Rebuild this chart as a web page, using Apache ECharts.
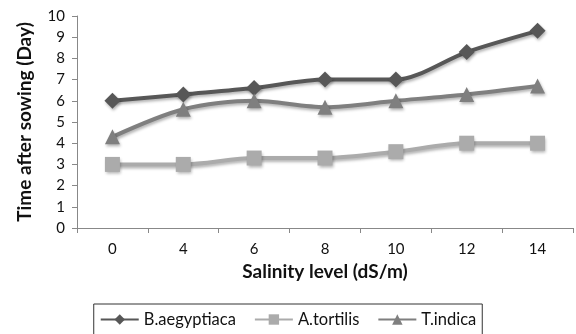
<!DOCTYPE html>
<html><head><meta charset="utf-8">
<script src="https://cdn.jsdelivr.net/npm/echarts@6/dist/echarts.min.js"></script>
<style>html,body{margin:0;padding:0;background:#fff}#c{width:576px;height:334px}</style>
</head><body><div id="c"></div>
<script>
const categories = ['0','4','6','8','10','12','14'];
const bAegyptiaca = [6.0, 6.3, 6.6, 7.0, 7.0, 8.3, 9.3];
const aTortilis = [3.0, 3.0, 3.3, 3.3, 3.6, 4.0, 4.0];
const tIndica = [4.3, 5.6, 6.0, 5.7, 6.0, 6.3, 6.7];
const seriesNames = ['B.aegyptiaca', 'A.tortilis', 'T.indica'];
const FONT = 'Lato';
const chart = echarts.init(document.getElementById('c'));
function mk(name, data, color, symbol, size) {
  return {
    name, type: 'line', data, smooth: 0.3, symbol, symbolSize: size,
    lineStyle: { color, width: 4, shadowColor: 'rgba(0,0,0,0.3)', shadowBlur: 3, shadowOffsetX: 1, shadowOffsetY: 2 },
    itemStyle: { color, shadowColor: 'rgba(0,0,0,0.3)', shadowBlur: 3, shadowOffsetX: 1, shadowOffsetY: 2 },
    emphasis: { disabled: true }
  };
}
chart.setOption({
  animation: false,
  textStyle: { fontFamily: FONT },
  grid: { left: 77, right: 3, top: 16, bottom: 106, containLabel: false },
  xAxis: {
    type: 'category', data: categories, boundaryGap: true,
    name: 'Salinity level (dS/m)', nameLocation: 'middle', nameGap: 34,
    nameTextStyle: { fontFamily: FONT, fontSize: 19, fontWeight: 'bold', color: '#111' },
    axisLine: { lineStyle: { color: '#888', width: 1 } },
    axisTick: { show: true, length: 5, lineStyle: { color: '#888' } },
    axisLabel: { fontFamily: FONT, fontSize: 15, color: '#111', margin: 14 },
    splitLine: { show: false }
  },
  yAxis: {
    type: 'value', min: 0, max: 10, interval: 1,
    name: 'Time after sowing (Day)', nameLocation: 'middle', nameGap: 43, nameRotate: 90,
    nameTextStyle: { fontFamily: FONT, fontSize: 19, fontWeight: 'bold', color: '#111' },
    axisLine: { show: true, lineStyle: { color: '#888', width: 1 } },
    axisTick: { show: true, length: 5, lineStyle: { color: '#888' } },
    axisLabel: { fontFamily: FONT, fontSize: 15, color: '#111', margin: 12 },
    splitLine: { show: false }
  },
  legend: {
    data: seriesNames, top: 304, left: 'center',
    borderColor: '#333', borderWidth: 1, padding: [7, 6, 7, 6],
    itemWidth: 38, itemHeight: 13, itemGap: 18,
    textStyle: { fontFamily: FONT, fontSize: 16.5, color: '#111' }
  },
  series: [
    mk(seriesNames[0], bAegyptiaca, '#575757', 'diamond', 16),
    mk(seriesNames[1], aTortilis, '#ababab', 'rect', 15),
    mk(seriesNames[2], tIndica, '#7f7f7f', 'triangle', 15)
  ]
});
</script></body></html>
